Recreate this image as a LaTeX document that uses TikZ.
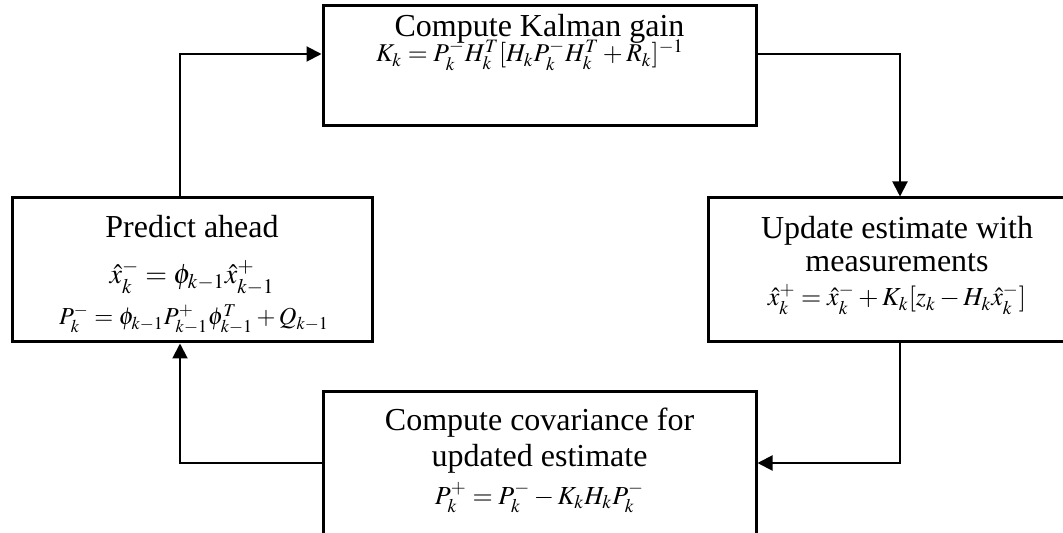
\documentclass[tikz,border=0pt]{standalone}
\usepackage{mathptmx}
\usepackage[no-math]{fontspec}
\setmainfont{Liberation Serif}
\usetikzlibrary{arrows.meta}
\tikzset{
  box/.style={draw, line width=1.5pt, rectangle, inner sep=0pt},
  conn/.style={draw, line width=1pt},
  arr/.style={conn, -{Triangle[length=7.5pt,width=7.5pt]}},
  lbl/.style={inner sep=0pt, anchor=base, font=\fontsize{16}{19}\selectfont},
  eq/.style={inner sep=0pt, anchor=base, font=\fontsize{#1}{15}\selectfont},
  eq/.default=13,
}
\begin{document}
\begin{tikzpicture}[x=0.5pt,y=-0.5pt]
\useasboundingbox (0,0) rectangle (1063,533);
\clip (0,0) rectangle (1063,533);
% boxes
\node[box, minimum width=216.5pt, minimum height=60pt] (gain) at (539.5,66) {};
\node[box, minimum width=180pt, minimum height=72pt] (predict) at (192,270) {};
\node[box, minimum width=191pt, minimum height=72pt] (update) at (899,270) {};
\node[box, minimum width=216.5pt, minimum height=75pt] (cov) at (539.5,466) {};
% texts
\node[lbl] (gaint) at (539.5,37) {Compute Kalman gain};
\node[eq=12.8] (gaine) at (530,62) {$K_k = P_k^- H_k^T [H_k P_k^- H_k^T + R_k]^{-1}$};
\node[lbl] (predt) at (192,238) {Predict ahead};
\node[eq=14] (prede1) at (192,284) {$\hat{x}_k^- = \phi_{k-1}\hat{x}_{k-1}^+$};
\node[eq=12.2] (prede2) at (194,325) {$P_k^- = \phi_{k-1} P_{k-1}^+ \phi_{k-1}^T + Q_{k-1}$};
\node[lbl] (updt1) at (897,239) {Update estimate with};
\node[lbl] (updt2) at (897,272) {measurements};
\node[eq=13] (upde) at (897,306) {$\hat{x}_k^+ = \hat{x}_k^- + K_k[z_k - H_k\hat{x}_k^-]$};
\node[lbl] (covt1) at (539.5,430) {Compute covariance for};
\node[lbl] (covt2) at (539.5,466) {updated estimate};
\node[eq=13] (cove) at (539.5,504) {$P_k^+ = P_k^- - K_k H_k P_k^-$};
% connector bends
\coordinate (l1) at (180,54);
\coordinate (r1) at (900,54);
\coordinate (r2) at (900,463);
\coordinate (l2) at (180,463);
\draw[arr] (predict.north -| l1) |- (gain.west |- l1);
\draw[arr] (gain.east |- r1) -| (update.north -| r1);
\draw[arr] (update.south -| r2) |- (cov.east |- r2);
\draw[arr] (cov.west |- l2) -| (predict.south -| l2);
\end{tikzpicture}
\end{document}
